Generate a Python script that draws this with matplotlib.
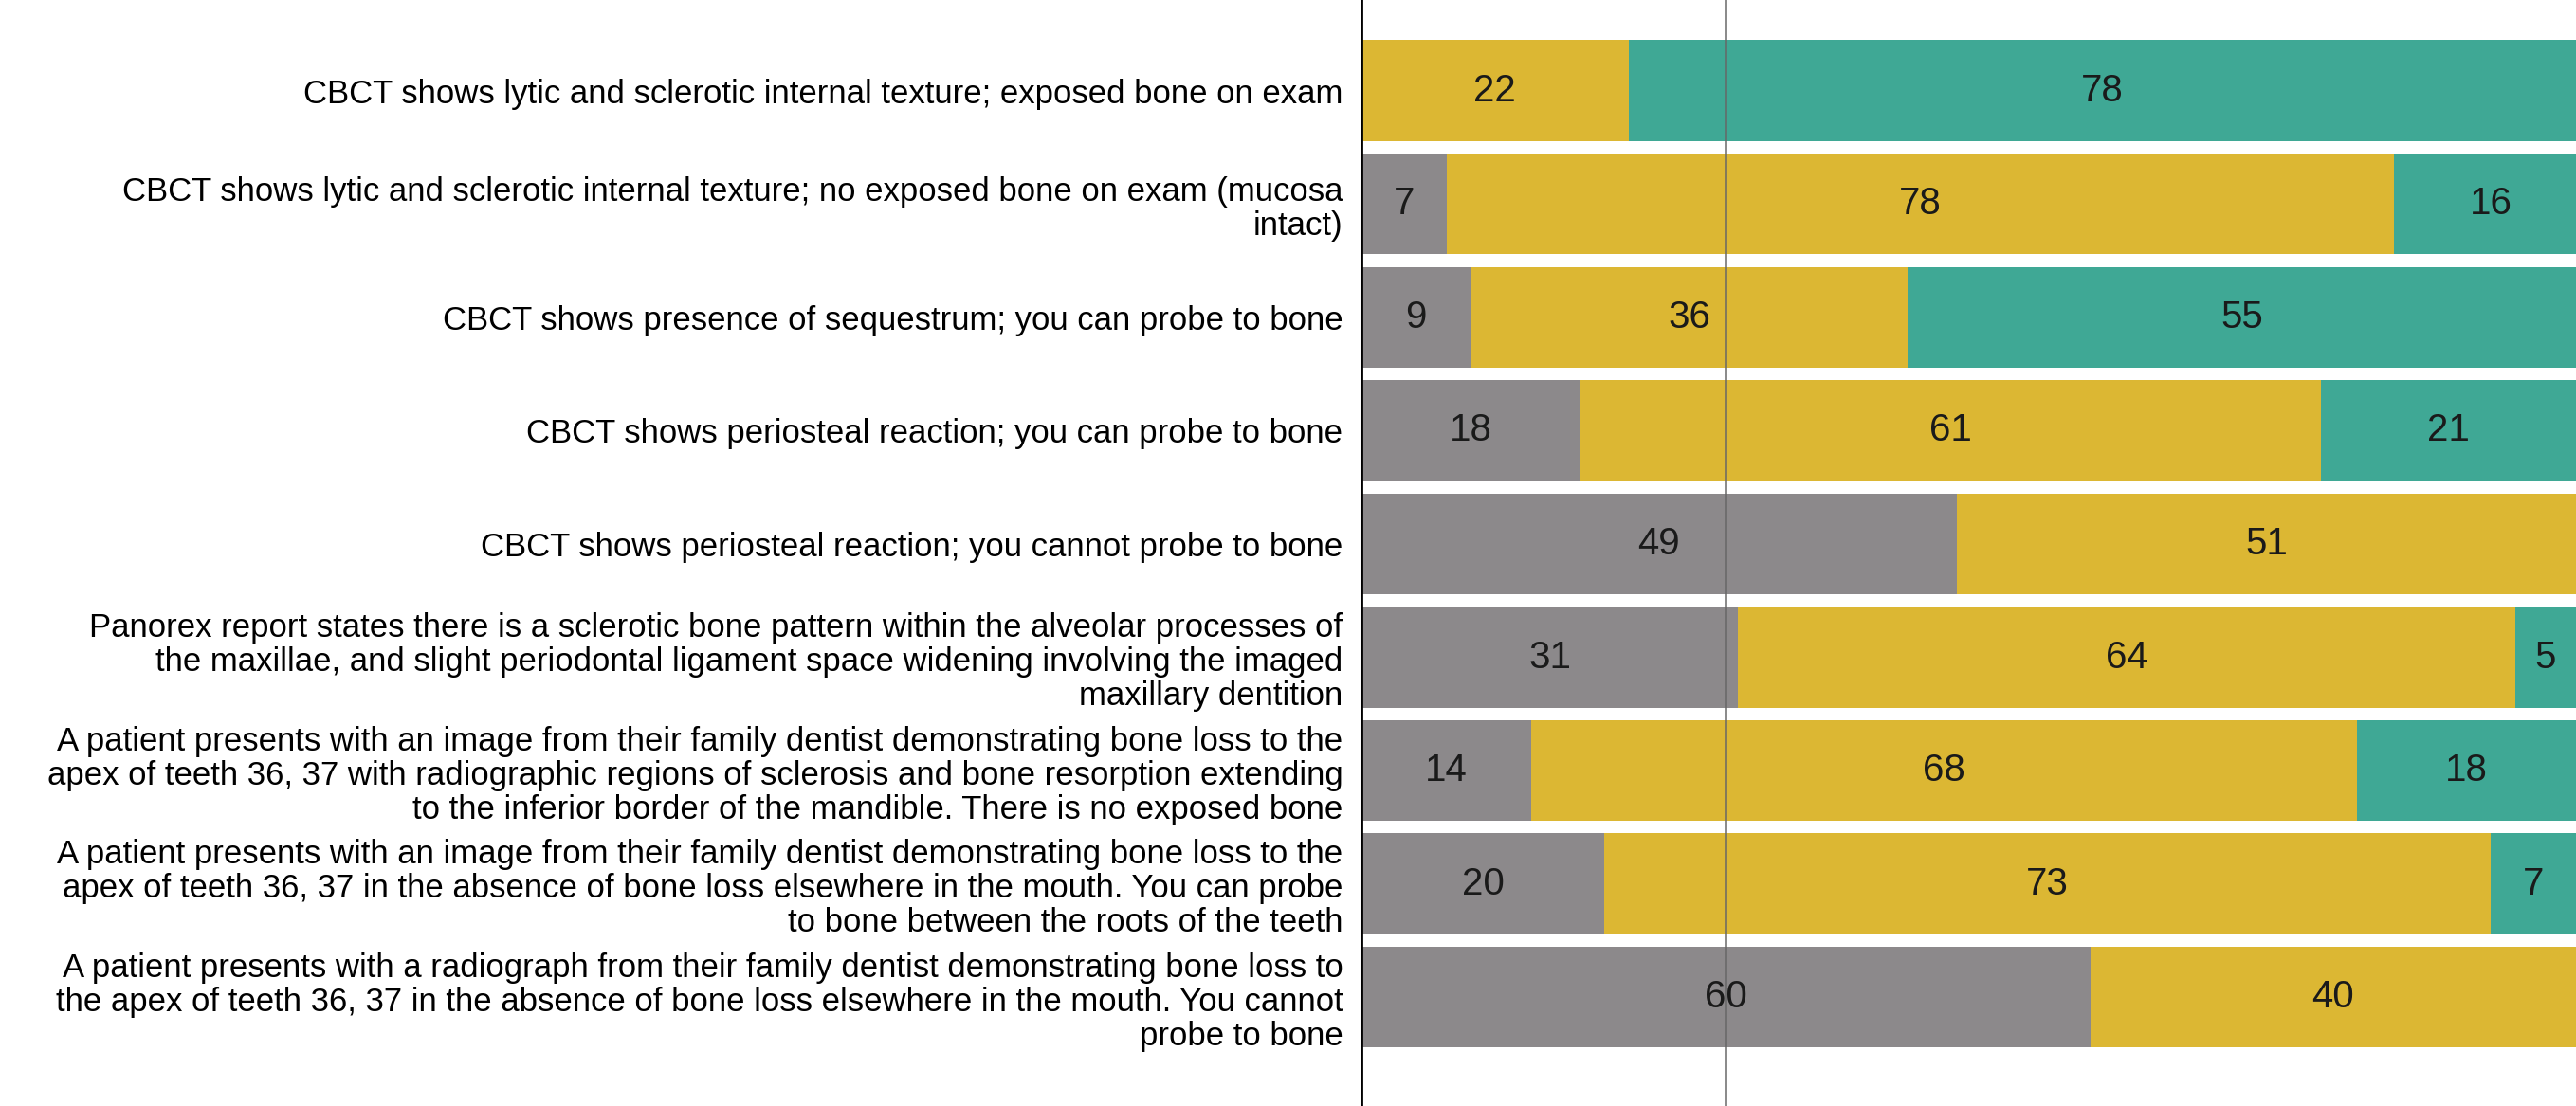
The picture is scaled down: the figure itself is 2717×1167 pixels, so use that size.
import matplotlib.pyplot as plt
import numpy as np

# Scenario labels (top to bottom)
scenarios = [
    "CBCT shows lytic and sclerotic internal texture; exposed bone on exam",
    "CBCT shows lytic and sclerotic internal texture; no exposed bone on exam (mucosa\nintact)",
    "CBCT shows presence of sequestrum; you can probe to bone",
    "CBCT shows periosteal reaction; you can probe to bone",
    "CBCT shows periosteal reaction; you cannot probe to bone",
    "Panorex report states there is a sclerotic bone pattern within the alveolar processes of\n"
    "the maxillae, and slight periodontal ligament space widening involving the imaged\n"
    "maxillary dentition",
    "A patient presents with an image from their family dentist demonstrating bone loss to the\n"
    "apex of teeth 36, 37 with radiographic regions of sclerosis and bone resorption extending\n"
    "to the inferior border of the mandible. There is no exposed bone",
    "A patient presents with an image from their family dentist demonstrating bone loss to the\n"
    "apex of teeth 36, 37 in the absence of bone loss elsewhere in the mouth. You can probe\n"
    "to bone between the roots of the teeth",
    "A patient presents with a radiograph from their family dentist demonstrating bone loss to\n"
    "the apex of teeth 36, 37 in the absence of bone loss elsewhere in the mouth. You cannot\n"
    "probe to bone",
]

# Percentages per segment
gray_vals = [0, 7, 9, 18, 49, 31, 14, 20, 60]
yellow_vals = [22, 78, 36, 61, 51, 64, 68, 73, 40]
teal_vals = [78, 16, 55, 21, 0, 5, 18, 7, 0]

ref_line = 30

colors = ["#8c898b", "#dcb733", "#3fa895"]

plt.rcParams['font.family'] = ['Liberation Sans', 'DejaVu Sans']

fig = plt.figure(figsize=(27.17, 11.67), dpi=100)
ax = fig.add_axes([0.5285, 0.0, 0.4715, 1.0])

y = np.arange(len(scenarios))
left = np.zeros(len(scenarios))
for vals, col in zip([gray_vals, yellow_vals, teal_vals], colors):
    vals = np.array(vals, dtype=float)
    ax.barh(y, vals, left=left, height=0.89, color=col, zorder=2)
    for yi, l, v in zip(y, left, vals):
        if v > 0:
            ax.text(l + v / 2, yi, f"{int(v)}", ha='center', va='center',
                    fontsize=29, color='#1a1a1a', zorder=4)
    left += vals

ax.axvline(ref_line, color='#666666', linewidth=1.8, zorder=3)

ax.set_xlim(0, 100)
ax.set_ylim(8.96, -0.80)
ax.set_yticks(y)
ax.set_yticklabels(scenarios, fontsize=25, linespacing=1.12)
ax.tick_params(axis='y', length=0, pad=14)
ax.set_xticks([])
for s in ['top', 'right', 'bottom']:
    ax.spines[s].set_visible(False)
ax.spines['left'].set_linewidth(2)
ax.spines['left'].set_color('black')

fig.savefig("out.png", dpi=100)
